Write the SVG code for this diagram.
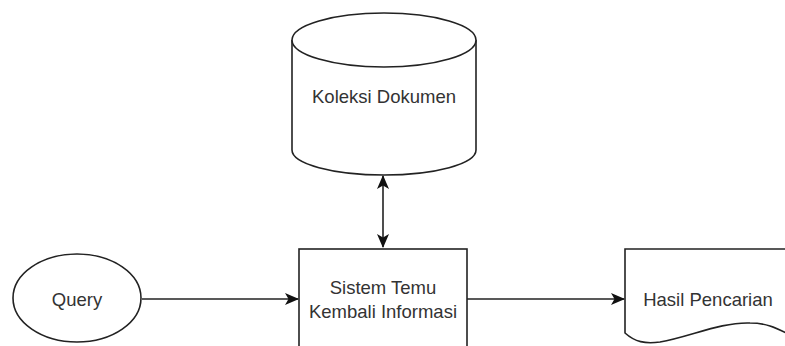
<svg xmlns="http://www.w3.org/2000/svg" width="785" height="346" viewBox="0 0 785 346">
<style>
.s{fill:#fff;stroke:#222;stroke-width:1.6}
.t{font-family:"Liberation Sans",Arial,sans-serif;font-size:18.5px;fill:#333;text-anchor:middle}
.c{stroke:#222;stroke-width:1.6;fill:none}
</style>
<defs>
<marker id="ah" viewBox="0 0 14 12" refX="13" refY="6" markerWidth="14" markerHeight="12" markerUnits="userSpaceOnUse" orient="auto-start-reverse">
<path d="M0,0 L14,6 L0,12 L3.5,6 Z" fill="#111"/>
</marker>
</defs>
<rect width="785" height="346" fill="#fff"/>
<g id="koleksi">
<path class="s" d="M292,40 L292,150 A92,25 0 0 0 476,150 L476,40"/>
<ellipse class="s" cx="384" cy="40" rx="92" ry="27"/>
<text class="t" x="384" y="103">Koleksi Dokumen</text>
</g>
<g id="sistem">
<rect class="s" x="299" y="249" width="168" height="110"/>
<text class="t" x="383" y="294">Sistem Temu</text>
<text class="t" x="383" y="318">Kembali Informasi</text>
</g>
<g id="query">
<ellipse class="s" cx="77" cy="298" rx="64" ry="44"/>
<text class="t" x="77" y="306">Query</text>
</g>
<g id="hasil">
<path class="s" d="M625,249 L790,249 L790,335 C775,327 765,323 750,323 C720,322 690,337 660,342 C645,344 635,342 625,333 Z"/>
<text class="t" x="708" y="306">Hasil Pencarian</text>
</g>
<g id="connectors">
<line class="c" x1="383" y1="176" x2="383" y2="247" marker-start="url(#ah)" marker-end="url(#ah)"/>
<line class="c" x1="142" y1="299" x2="298" y2="299" marker-end="url(#ah)"/>
<line class="c" x1="467" y1="299" x2="624" y2="299" marker-end="url(#ah)"/>
</g>
</svg>
